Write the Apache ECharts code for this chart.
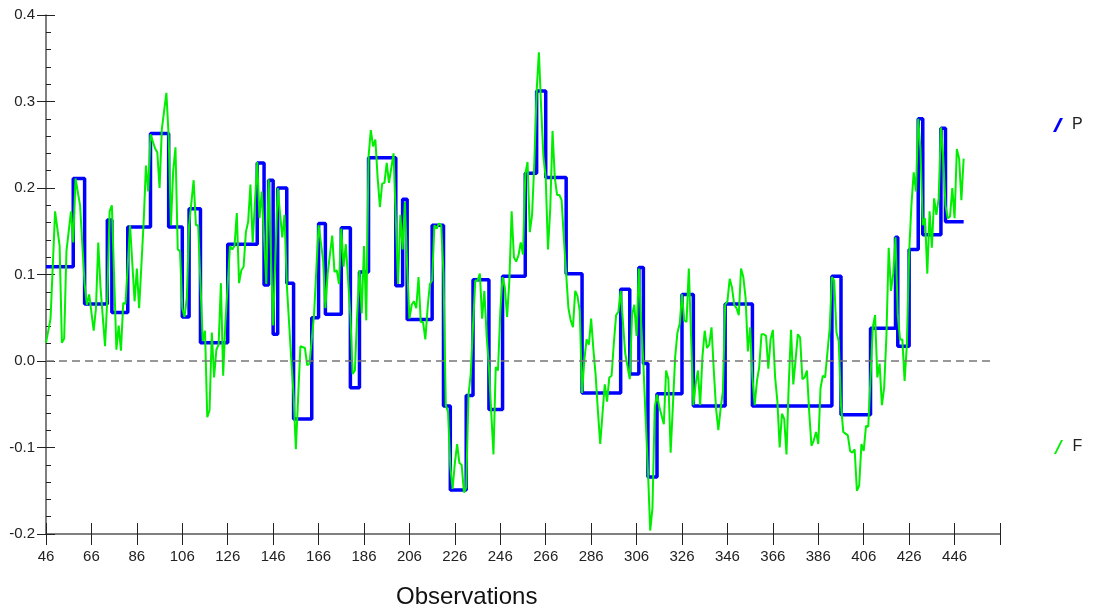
<!DOCTYPE html>
<html>
<head>
    <meta charset="utf-8">
    <script src="https://cdn.jsdelivr.net/npm/echarts@6/dist/echarts.min.js"></script>
    <style>
html,body,#main { width: 1097px; height: 614px; margin: 0; padding: 0; background: #fff; }
    </style>
</head>
<body>
<div id="main"></div>
<script type="text/javascript">
// first observation on the x axis, ticks every 20 observations up to 466
var xStart = 46;
var xEnd = 466;

// P: step series, each entry starts a new level
var pObs = [46, 58, 63, 73, 75, 82, 92, 100, 106, 109, 114, 126, 139, 142, 144, 146, 148, 152, 155,
    163, 166, 169, 176, 180, 184, 188, 200, 203, 205, 216, 221, 224, 231, 234, 241, 247, 257, 262,
    266, 275, 282, 299, 303, 307, 309, 311, 315, 326, 331, 345, 357, 392, 396, 409, 420, 421, 426,
    430, 432, 440, 442, 450];
var pVal = [0.109, 0.211, 0.066, 0.163, 0.056, 0.155, 0.263, 0.155, 0.051, 0.176, 0.021, 0.135, 0.229,
    0.088, 0.209, 0.031, 0.2, 0.09, -0.067, 0.05, 0.159, 0.054, 0.154, -0.031, 0.103, 0.235, 0.087,
    0.187, 0.048, 0.157, -0.052, -0.149, -0.04, 0.094, -0.056, 0.098, 0.217, 0.312, 0.212, 0.101,
    -0.037, 0.083, -0.015, 0.108, -0.003, -0.134, -0.038, 0.077, -0.052, 0.066, -0.052, 0.098,
    -0.062, 0.038, 0.143, 0.017, 0.129, 0.28, 0.146, 0.269, 0.161, 0.161];

// F: observed series
var fObs = [46, 48, 50, 52, 53, 54, 55, 57, 58, 59, 61, 63, 64, 65, 67, 68, 69, 70, 72, 73, 74, 75, 77, 78,
    79, 80, 81, 83, 85, 86, 87, 89, 90, 91, 92, 94, 95, 96, 97, 99, 100, 101, 102, 103, 104, 105, 106,
    107, 108, 109, 111, 112, 113, 115, 116, 117, 118, 119, 120, 121, 122, 123, 124, 125, 127, 128, 129,
    130, 131, 132, 133, 134, 135, 136, 137, 139, 140, 141, 143, 144, 146, 148, 150, 151, 152, 154, 155,
    156, 158, 160, 161, 162, 164, 166, 168, 169, 170, 172, 173, 174, 175, 176, 177, 178, 180, 181, 182,
    183, 184, 185, 186, 187, 188, 189, 190, 191, 192, 193, 194, 195, 196, 197, 199, 200, 201, 202, 203,
    204, 205, 206, 207, 208, 209, 210, 211, 212, 213, 214, 215, 216, 217, 218, 219, 220, 221, 222, 223,
    224, 225, 226, 227, 228, 229, 230, 231, 232, 233, 234, 235, 236, 237, 238, 239, 240, 241, 242, 243,
    244, 245, 246, 247, 248, 249, 250, 251, 252, 253, 254, 255, 256, 257, 258, 259, 260, 261, 262, 263,
    264, 265, 266, 267, 268, 269, 270, 271, 272, 273, 274, 275, 276, 277, 278, 279, 280, 281, 282, 283,
    284, 285, 286, 287, 288, 289, 290, 291, 292, 293, 294, 295, 296, 297, 298, 299, 300, 301, 303, 304,
    305, 306, 307, 308, 309, 310, 311, 312, 313, 314, 315, 316, 318, 319, 320, 321, 322, 323, 324, 325,
    326, 327, 328, 329, 330, 331, 332, 333, 334, 335, 336, 337, 338, 339, 340, 341, 342, 343, 344, 345,
    346, 347, 348, 349, 350, 351, 352, 353, 354, 355, 356, 357, 358, 359, 360, 361, 362, 363, 364, 365,
    366, 367, 368, 369, 370, 371, 372, 373, 374, 375, 376, 377, 378, 379, 380, 381, 382, 383, 384, 385,
    386, 387, 388, 389, 390, 391, 392, 393, 394, 395, 396, 397, 398, 399, 400, 401, 402, 403, 404, 405,
    406, 407, 408, 409, 410, 411, 412, 413, 414, 415, 416, 417, 418, 419, 420, 421, 422, 423, 424, 425,
    426, 427, 428, 429, 430, 431, 432, 433, 434, 435, 436, 437, 438, 439, 440, 441, 442, 443, 444, 445,
    446, 447, 448, 449, 450];
var fVal = [0.021, 0.049, 0.173, 0.133, 0.021, 0.026, 0.127, 0.173, 0.137, 0.211, 0.18, 0.089, 0.065,
    0.077, 0.035, 0.061, 0.137, 0.085, 0.017, 0.073, 0.173, 0.18, 0.013, 0.041, 0.012, 0.067, 0.066,
    0.157, 0.069, 0.107, 0.061, 0.161, 0.226, 0.196, 0.262, 0.246, 0.241, 0.2, 0.268, 0.31, 0.26, 0.157,
    0.22, 0.247, 0.129, 0.127, 0.061, 0.051, 0.073, 0.157, 0.209, 0.157, 0.157, 0.023, 0.035, -0.065,
    -0.057, 0.033, -0.019, 0.013, 0.019, 0.09, -0.017, 0.045, 0.133, 0.129, 0.133, 0.171, 0.09, 0.105,
    0.109, 0.149, 0.161, 0.204, 0.137, 0.23, 0.165, 0.196, 0.089, 0.21, 0.041, 0.2, 0.143, 0.169, 0.089,
    0.001, -0.039, -0.102, 0.017, 0.015, -0.005, -0.003, 0.053, 0.157, 0.117, 0.061, 0.101, 0.145, 0.103,
    0.105, 0.089, 0.153, 0.109, 0.135, 0.053, -0.015, -0.011, 0.053, 0.105, 0.055, 0.133, 0.047, 0.236,
    0.267, 0.248, 0.256, 0.212, 0.178, 0.205, 0.206, 0.229, 0.206, 0.24, 0.165, 0.089, 0.169, 0.129,
    0.184, 0.109, 0.049, 0.065, 0.069, 0.061, 0.097, 0.045, 0.045, 0.025, 0.061, 0.089, 0.093, 0.157,
    0.153, 0.159, 0.157, 0.101, -0.051, -0.059, -0.122, -0.148, -0.118, -0.096, -0.118, -0.12, -0.152,
    -0.146, -0.039, -0.015, 0.041, 0.093, 0.093, 0.101, 0.049, 0.081, 0.029, -0.007, -0.059, -0.108,
    -0.007, -0.011, 0.057, 0.097, 0.085, 0.051, 0.093, 0.173, 0.12, 0.115, 0.122, 0.137, 0.123, 0.216,
    0.23, 0.149, 0.169, 0.23, 0.312, 0.357, 0.292, 0.236, 0.212, 0.129, 0.176, 0.266, 0.212, 0.192,
    0.192, 0.186, 0.141, 0.101, 0.061, 0.047, 0.039, 0.081, 0.075, 0.057, -0.037, 0.001, 0.025, 0.019,
    0.049, 0.013, -0.017, -0.059, -0.096, -0.061, -0.027, -0.047, -0.019, -0.017, 0.021, 0.053, 0.057,
    0.081, 0.045, 0.009, -0.021, 0.053, 0.065, 0.029, 0.107, 0.045, -0.003, -0.067, -0.126, -0.196,
    -0.17, -0.053, -0.039, -0.053, -0.073, -0.011, -0.021, -0.106, -0.051, 0.005, 0.033, 0.043, 0.077,
    0.047, 0.045, 0.107, 0.029, -0.051, -0.027, -0.011, -0.051, 0.005, 0.035, 0.015, 0.019, 0.039,
    -0.011, -0.055, -0.08, -0.055, -0.035, 0.065, 0.069, 0.095, 0.085, 0.065, 0.061, 0.053, 0.107,
    0.097, 0.073, 0.011, 0.039, -0.019, -0.051, -0.023, -0.007, 0.031, 0.031, 0.029, -0.009, 0.025,
    0.036, -0.019, -0.047, -0.1, -0.061, -0.067, -0.108, -0.027, 0.036, -0.027, 0.001, 0.031, 0.027,
    -0.021, -0.019, -0.011, -0.059, -0.098, -0.092, -0.082, -0.096, -0.031, -0.017, -0.019, 0.009,
    0.037, 0.097, 0.093, 0.033, 0.023, -0.051, -0.082, -0.084, -0.086, -0.104, -0.106, -0.102, -0.15,
    -0.144, -0.096, -0.104, -0.075, -0.076, -0.019, 0.039, 0.053, -0.019, -0.003, -0.051, -0.031, 0.029,
    0.131, 0.081, 0.101, 0.143, 0.053, 0.025, 0.025, -0.023, 0.019, 0.125, 0.18, 0.218, 0.196, 0.28,
    0.244, 0.157, 0.165, 0.101, 0.173, 0.131, 0.188, 0.169, 0.188, 0.27, 0.236, 0.18, 0.165, 0.167,
    0.2, 0.165, 0.245, 0.234, 0.186, 0.234];

var yMin = -0.2, yMax = 0.4, yStep = 0.1;
var zeroLineEnd = 463;

var font = "'Liberation Sans', Arial, sans-serif";
var axisColor = '#555';
var tickColor = '#222';

function shift(obs, vals) {
    return obs.map(function (o, i) { return [o - xStart, vals[i]]; });
}

function xAxisBase(extra) {
    return Object.assign({
        type: 'value',
        position: 'bottom',
        min: 0,
        max: xEnd - xStart,
        interval: 20,
        splitLine: { show: false }
    }, extra);
}

function yAxisBase(extra) {
    return Object.assign({
        type: 'value',
        position: 'left',
        min: yMin,
        max: yMax,
        interval: yStep,
        splitLine: { show: false }
    }, extra);
}

var option = {
    animation: false,
    backgroundColor: '#fff',
    textStyle: { fontFamily: font },
    grid: { left: 46, right: 97, top: 15, bottom: 80, containLabel: false },
    xAxis: [
        xAxisBase({
            axisLine: { onZero: false, lineStyle: { color: axisColor, width: 1.5 } },
            axisTick: { length: 11, lineStyle: { color: tickColor } },
            axisLabel: {
                color: '#222', fontSize: 15, margin: 15, fontFamily: font,
                formatter: function (v) { return v >= xEnd - xStart ? '' : String(v + xStart); }
            }
        }),
        xAxisBase({
            axisLine: { show: false, onZero: false },
            axisTick: { inside: true, length: 11, lineStyle: { color: tickColor } },
            axisLabel: { show: false }
        })
    ],
    yAxis: [
        yAxisBase({
            axisLine: { show: true, onZero: false, lineStyle: { color: axisColor, width: 1.5 } },
            axisTick: { show: true, length: 9, lineStyle: { color: tickColor } },
            axisLabel: {
                color: '#222', fontSize: 15, margin: 11, fontFamily: font,
                formatter: function (v) { return Math.abs(v) < 1e-9 ? '0.0' : v.toFixed(1); }
            }
        }),
        yAxisBase({
            axisLine: { show: false, onZero: false },
            axisTick: { show: true, inside: true, length: 9, lineStyle: { color: tickColor } },
            minorTick: { show: true, splitNumber: 5, length: 5, lineStyle: { color: tickColor } },
            axisLabel: { show: false }
        })
    ],
    legend: [
        {
            data: ['P'], left: 1048, top: 112, selectedMode: false,
            icon: 'path://M0,14L7,0L10,0L3,14Z', itemWidth: 10, itemHeight: 14,
            textStyle: { fontSize: 16, color: '#222', fontFamily: font, padding: [0, 0, 0, 4] }
        },
        {
            data: ['F'], left: 1049, top: 434, selectedMode: false,
            icon: 'path://M0,14L7,0L9,0L2,14Z', itemWidth: 10, itemHeight: 14,
            textStyle: { fontSize: 16, color: '#222', fontFamily: font, padding: [0, 0, 0, 4] }
        }
    ],
    graphic: [{
        type: 'text', left: 396, top: 585,
        style: { text: 'Observations', fontSize: 24, fill: '#111', fontFamily: font }
    }],
    series: [
        {
            name: 'P',
            type: 'line',
            step: 'end',
            data: shift(pObs, pVal),
            showSymbol: false,
            color: '#0000ff',
            lineStyle: { width: 3.5, color: '#0000ff' },
            z: 2,
            markLine: {
                silent: true,
                symbol: 'none',
                label: { show: false },
                lineStyle: { type: [8, 5], color: '#777', width: 1.5 },
                data: [[{ coord: [0, 0] }, { coord: [zeroLineEnd - xStart, 0] }]]
            }
        },
        {
            name: 'F',
            type: 'line',
            data: shift(fObs, fVal),
            showSymbol: false,
            color: '#00ee00',
            lineStyle: { width: 2, color: '#00ee00' },
            z: 3
        }
    ]
};

var chart = echarts.init(document.getElementById('main'));
chart.setOption(option);
</script>
</body>
</html>
